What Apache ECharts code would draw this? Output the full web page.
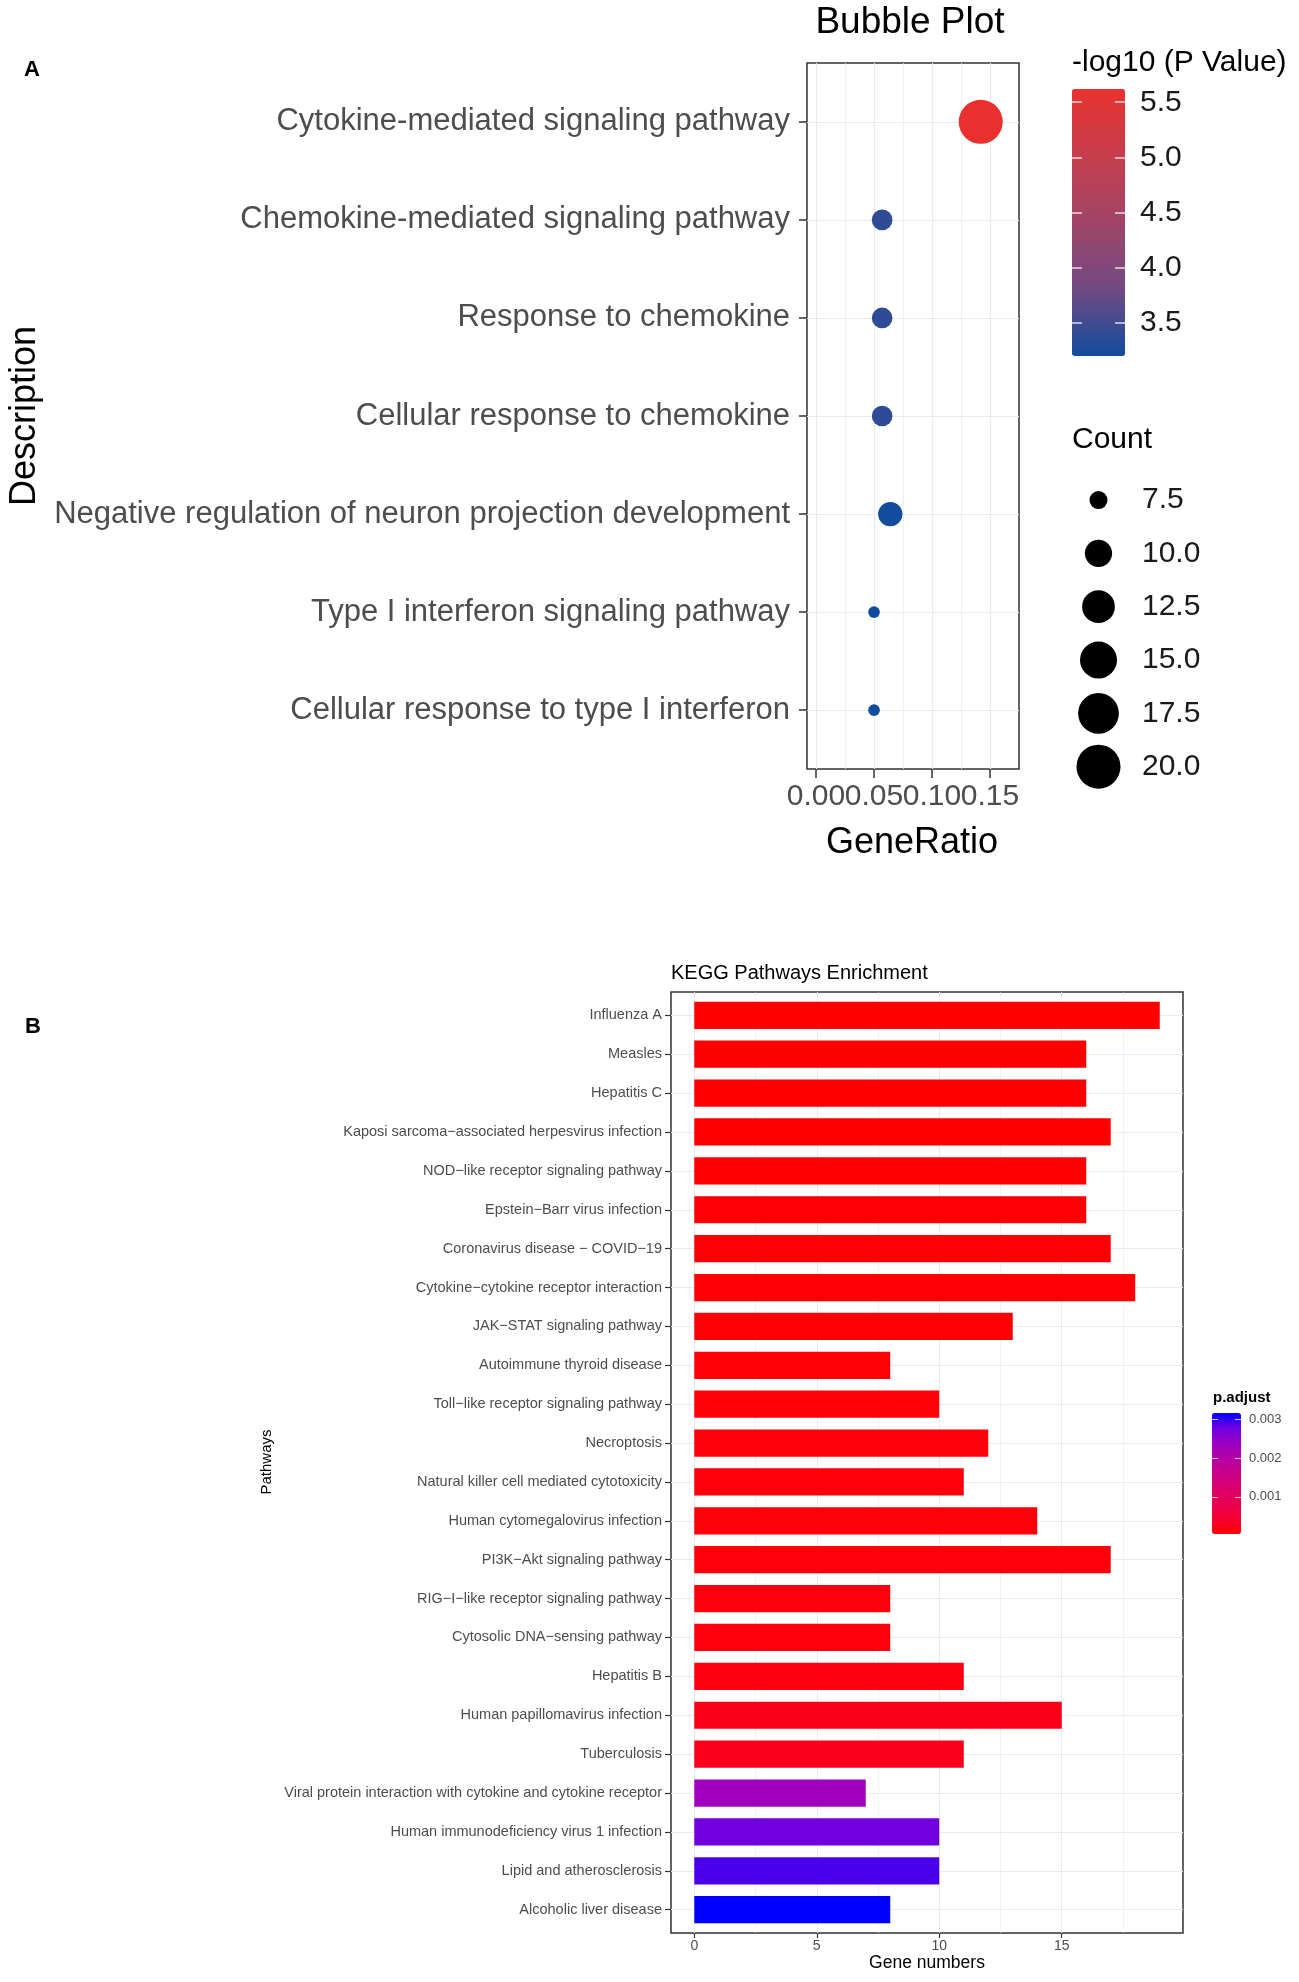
<!DOCTYPE html>
<html><head><meta charset="utf-8">
<script src="https://cdn.jsdelivr.net/npm/echarts@6/dist/echarts.min.js"></script>
<style>html,body{margin:0;padding:0;background:#fff}#c{width:1299px;height:1982px}</style>
</head><body><div id="c"></div>
<script>
// ---------- Panel A data ----------
const goTerms = [
  'Cytokine-mediated signaling pathway',
  'Chemokine-mediated signaling pathway',
  'Response to chemokine',
  'Cellular response to chemokine',
  'Negative regulation of neuron projection development',
  'Type I interferon signaling pathway',
  'Cellular response to type I interferon'
];
const geneRatio = [0.142, 0.057, 0.057, 0.057, 0.064, 0.050, 0.050];
const goCount = [20, 8, 8, 8, 9, 7, 7];
const negLog10P = [5.62, 3.40, 3.40, 3.38, 3.22, 3.20, 3.20];
const ratioTicks = [0, 0.05, 0.10, 0.15];
const ratioMinorTicks = [0.025, 0.075, 0.125];
const pValueTicks = [3.5, 4.0, 4.5, 5.0, 5.5];
const countBreaks = [7.5, 10, 12.5, 15, 17.5, 20];

// ---------- Panel B data ----------
const pathways = [
  'Influenza A',
  'Measles',
  'Hepatitis C',
  'Kaposi sarcoma\u2212associated herpesvirus infection',
  'NOD\u2212like receptor signaling pathway',
  'Epstein\u2212Barr virus infection',
  'Coronavirus disease \u2212 COVID\u221219',
  'Cytokine\u2212cytokine receptor interaction',
  'JAK\u2212STAT signaling pathway',
  'Autoimmune thyroid disease',
  'Toll\u2212like receptor signaling pathway',
  'Necroptosis',
  'Natural killer cell mediated cytotoxicity',
  'Human cytomegalovirus infection',
  'PI3K\u2212Akt signaling pathway',
  'RIG\u2212I\u2212like receptor signaling pathway',
  'Cytosolic DNA\u2212sensing pathway',
  'Hepatitis B',
  'Human papillomavirus infection',
  'Tuberculosis',
  'Viral protein interaction with cytokine and cytokine receptor',
  'Human immunodeficiency virus 1 infection',
  'Lipid and atherosclerosis',
  'Alcoholic liver disease'
];
const geneNumbers = [19, 16, 16, 17, 16, 16, 17, 18, 13, 8, 10, 12, 11, 14, 17, 8, 8, 11, 15, 11, 7, 10, 10, 8];
const pAdjust = [0.00004, 0.000042, 0.000045, 0.00005, 0.000055, 0.00006, 0.000065, 0.00007, 0.000075, 0.00008,
  0.00009, 0.0001, 0.00011, 0.00012, 0.00013, 0.00014, 0.00015, 0.00016, 0.00024, 0.00026,
  0.0023, 0.00275, 0.0029, 0.00316];
const geneTicks = [0, 5, 10, 15];
const geneMinorTicks = [2.5, 7.5, 12.5, 17.5];
const pAdjustTicks = [0.001, 0.002, 0.003];

// ---------- styles / layout ----------
const FONT = "'Liberation Sans', Arial, Helvetica, sans-serif";
const GRID_COLOR = '#EBEBEB';
const BORDER = '#333333';
const LABEL_GRAY = '#4D4D4D';
const BAR_WIDTH = 0.7; // fraction of a row
const gridA = {left: 807, top: 63, width: 212, height: 706};
const gridB = {left: 671, top: 992, width: 512, height: 941};

const cMin = Math.min(...goCount), cMax = Math.max(...goCount);
function bubbleDiameter(c) {
  const t = Math.max(0, Math.min(1, (c - cMin) / (cMax - cMin)));
  return 5.2 + 6.47 * (1 + 5 * Math.sqrt(t));
}
const pMin = Math.min(...negLog10P), pMax = Math.max(...negLog10P);
const padjMin = Math.min(...pAdjust), padjMax = Math.max(...pAdjust);
// the overlapping GeneRatio tick labels are split over two axes so none gets hidden
const ratioLabelsEven = ratioTicks.filter((_, i) => i % 2 === 0);
const ratioLabelsOdd = ratioTicks.filter((_, i) => i % 2 === 1);

const chart = echarts.init(document.getElementById('c'), null, {renderer: 'canvas'});

const hidden = {show: false};
const noLine = {show: false, onZero: false};
function txt(text, x, y, size, opts) {
  opts = opts || {};
  return {
    type: 'text', x: x, y: y, rotation: opts.rot || 0, z: 100,
    style: {
      text: text, fill: opts.color || '#000', fontSize: size, fontFamily: FONT,
      fontWeight: opts.bold ? 'bold' : 'normal',
      align: opts.align || 'center', verticalAlign: 'middle'
    }
  };
}
function plainGrid(g) {
  return Object.assign({outerBoundsMode: 'none', containLabel: false}, g);
}
function framedGrid(g) {
  return Object.assign({show: true, borderColor: BORDER, borderWidth: 1.5, backgroundColor: '#fff', outerBoundsMode: 'none', containLabel: false}, g);
}
const ratioLabelStyle = {fontSize: 30, color: LABEL_GRAY, margin: 13, fontFamily: FONT, formatter: v => v.toFixed(2)};

const option = {
  backgroundColor: '#ffffff',
  animation: false,
  textStyle: {fontFamily: FONT},
  grid: [
    framedGrid(gridA),                                              // 0
    plainGrid({left: 1072, top: 89, width: 53, height: 267}),       // 1 colorbar A
    plainGrid({left: 1072, top: 473.35, width: 53, height: 320}),   // 2 count legend
    framedGrid(gridB),                                              // 3
    plainGrid({left: 1212, top: 1413, width: 29, height: 121})      // 4 colorbar B
  ],
  xAxis: [
    { // 0 A main
      type: 'value', gridIndex: 0, position: 'bottom', min: -0.0078, max: 0.175,
      axisLine: noLine,
      axisTick: {show: true, customValues: ratioTicks, length: 9, lineStyle: {color: BORDER, width: 1.5}},
      axisLabel: Object.assign({show: true, customValues: ratioLabelsEven, showMinLabel: true, showMaxLabel: true, hideOverlap: false}, ratioLabelStyle),
      splitLine: {show: true, lineStyle: {color: GRID_COLOR, width: 1.2}}
    },
    { // 1 A minor grid + remaining labels (moved to the bottom edge)
      type: 'value', gridIndex: 0, position: 'top', offset: -gridA.height, min: -0.0078, max: 0.175,
      axisLine: noLine,
      axisTick: {show: false, customValues: ratioMinorTicks},
      axisLabel: Object.assign({show: true, inside: true, customValues: ratioLabelsOdd, showMinLabel: true, showMaxLabel: true, hideOverlap: false}, ratioLabelStyle),
      splitLine: {show: true, lineStyle: {color: GRID_COLOR, width: 0.8}}
    },
    {type: 'value', gridIndex: 1, min: 0, max: 1, show: false, axisLine: noLine},
    {type: 'value', gridIndex: 2, min: 0, max: 1, show: false, axisLine: noLine},
    { // 4 B main
      type: 'value', gridIndex: 3, position: 'bottom', min: -0.95, max: 19.95,
      axisLine: noLine,
      axisTick: {show: true, customValues: geneTicks, length: 5, lineStyle: {color: BORDER, width: 1.2}},
      axisLabel: {show: true, customValues: geneTicks, showMinLabel: true, showMaxLabel: true,
        fontSize: 14, color: LABEL_GRAY, margin: 6, fontFamily: FONT},
      splitLine: {show: true, lineStyle: {color: GRID_COLOR, width: 1}}
    },
    { // 5 B minor grid
      type: 'value', gridIndex: 3, position: 'top', min: -0.95, max: 19.95,
      axisLine: noLine, axisLabel: hidden,
      axisTick: {show: false, customValues: geneMinorTicks},
      splitLine: {show: true, lineStyle: {color: GRID_COLOR, width: 0.6}}
    },
    {type: 'value', gridIndex: 4, min: 0, max: 1, show: false, axisLine: noLine}
  ],
  yAxis: [
    { // 0 A
      type: 'value', gridIndex: 0, min: -0.6, max: goTerms.length - 1 + 0.6, inverse: true,
      axisLine: noLine,
      axisTick: {show: true, customValues: goTerms.map((_, i) => i), length: 8, lineStyle: {color: BORDER, width: 1.5}},
      axisLabel: {show: true, customValues: goTerms.map((_, i) => i), showMinLabel: true, showMaxLabel: true,
        formatter: v => goTerms[Math.round(v)], fontSize: 31, color: LABEL_GRAY, margin: 17, fontFamily: FONT},
      splitLine: {show: true, lineStyle: {color: GRID_COLOR, width: 1.2}}
    },
    { // 1 A colorbar left ticks
      type: 'value', gridIndex: 1, position: 'left', min: pMin, max: pMax, z: 10,
      axisLine: noLine, axisLabel: hidden, splitLine: hidden,
      axisTick: {show: true, inside: true, customValues: pValueTicks, length: 10, lineStyle: {color: 'rgba(255,255,255,0.8)', width: 1.5}}
    },
    { // 2 A colorbar right ticks + labels
      type: 'value', gridIndex: 1, position: 'right', min: pMin, max: pMax, z: 10,
      axisLine: noLine, splitLine: hidden,
      axisTick: {show: true, inside: true, customValues: pValueTicks, length: 10, lineStyle: {color: 'rgba(255,255,255,0.8)', width: 1.5}},
      axisLabel: {show: true, customValues: pValueTicks, showMinLabel: true, showMaxLabel: true,
        formatter: v => v.toFixed(1), fontSize: 30, color: '#1a1a1a', margin: 15, fontFamily: FONT}
    },
    { // 3 Count legend
      type: 'category', gridIndex: 2, position: 'right', inverse: true,
      data: countBreaks.map(b => b.toFixed(1)),
      axisLine: noLine, axisTick: hidden, splitLine: hidden,
      axisLabel: {show: true, interval: 0, fontSize: 30, color: '#1a1a1a', margin: 17, fontFamily: FONT}
    },
    { // 4 B frame
      type: 'value', gridIndex: 3, min: -0.6, max: pathways.length - 1 + 0.6, inverse: true,
      axisLine: noLine,
      axisTick: {show: true, customValues: pathways.map((_, i) => i), length: 6, lineStyle: {color: BORDER, width: 1.2}},
      axisLabel: {show: true, customValues: pathways.map((_, i) => i), showMinLabel: true, showMaxLabel: true,
        formatter: v => pathways[Math.round(v)], fontSize: 14.5, color: LABEL_GRAY, margin: 9, fontFamily: FONT},
      splitLine: {show: true, lineStyle: {color: GRID_COLOR, width: 1}}
    },
    { // 5 B colorbar left ticks
      type: 'value', gridIndex: 4, position: 'left', min: padjMin, max: padjMax, z: 10,
      axisLine: noLine, axisLabel: hidden, splitLine: hidden,
      axisTick: {show: true, inside: true, customValues: pAdjustTicks, length: 6, lineStyle: {color: 'rgba(255,255,255,0.8)', width: 1}}
    },
    { // 6 B colorbar right ticks + labels
      type: 'value', gridIndex: 4, position: 'right', min: padjMin, max: padjMax, z: 10,
      axisLine: noLine, splitLine: hidden,
      axisTick: {show: true, inside: true, customValues: pAdjustTicks, length: 6, lineStyle: {color: 'rgba(255,255,255,0.8)', width: 1}},
      axisLabel: {show: true, customValues: pAdjustTicks, showMinLabel: true, showMaxLabel: true,
        formatter: v => v.toFixed(3), fontSize: 13, color: LABEL_GRAY, margin: 8, fontFamily: FONT}
    }
  ],
  visualMap: [
    {
      type: 'continuous', seriesIndex: 0, dimension: 3, min: pMin, max: pMax,
      inRange: {color: ['#104C9E', '#714A83', '#A04568', '#C63E4D', '#E8312F']},
      orient: 'vertical', left: 1072, top: 89, itemWidth: 53, itemHeight: 267,
      padding: 0, calculable: false, hoverLink: false, text: null, z: 2
    },
    {
      type: 'continuous', seriesIndex: 2, dimension: 2, min: padjMin, max: padjMax,
      inRange: {color: ['#FF0000', '#F40031', '#E8004F', '#DA006C', '#CA0089', '#B500A5', '#9A00C3', '#7000DF', '#0000FF']},
      orient: 'vertical', left: 1212, top: 1413, itemWidth: 29, itemHeight: 121,
      padding: 0, calculable: false, hoverLink: false, text: null, z: 2
    }
  ],
  series: [
    {
      type: 'scatter', xAxisIndex: 0, yAxisIndex: 0,
      data: goTerms.map((t, i) => [geneRatio[i], i, goCount[i], negLog10P[i]]),
      encode: {x: 0, y: 1},
      symbol: 'circle',
      symbolSize: v => bubbleDiameter(v[2]),
      itemStyle: {opacity: 1},
      z: 5
    },
    {
      type: 'scatter', xAxisIndex: 3, yAxisIndex: 3,
      data: countBreaks.map((b, i) => [0.5, i, b]),
      encode: {x: 0, y: 1},
      symbol: 'circle',
      symbolSize: v => bubbleDiameter(v[2]),
      itemStyle: {color: '#000', opacity: 1}
    },
    {
      type: 'custom', xAxisIndex: 4, yAxisIndex: 4,
      data: pathways.map((p, i) => [geneNumbers[i], i, pAdjust[i]]),
      encode: {x: 0, y: 1},
      z: 5,
      renderItem: function (params, api) {
        const v = api.value(0), idx = api.value(1);
        const p0 = api.coord([0, idx - BAR_WIDTH / 2]);
        const p1 = api.coord([v, idx + BAR_WIDTH / 2]);
        return {
          type: 'rect',
          shape: {x: p0[0], y: Math.min(p0[1], p1[1]), width: p1[0] - p0[0], height: Math.abs(p1[1] - p0[1])},
          style: {fill: api.visual('color')}
        };
      }
    }
  ],
  graphic: [
    txt('A', 24, 70, 22, {bold: true, align: 'left'}),
    txt('Bubble Plot', 910, 23, 37),
    txt('GeneRatio', 912, 843, 36),
    txt('Description', 25, 416, 36, {rot: Math.PI / 2}),
    txt('-log10 (P Value)', 1072, 63, 30, {align: 'left'}),
    txt('Count', 1072, 440, 30, {align: 'left'}),
    txt('B', 25, 1027, 22, {bold: true, align: 'left'}),
    txt('KEGG Pathways Enrichment', 671, 973, 20, {align: 'left'}),
    txt('Gene numbers', 927, 1963, 17.5),
    txt('Pathways', 267, 1462, 15, {rot: Math.PI / 2}),
    txt('p.adjust', 1213, 1398, 15, {bold: true, align: 'left'})
  ]
};
chart.setOption(option);
</script>
</body></html>
